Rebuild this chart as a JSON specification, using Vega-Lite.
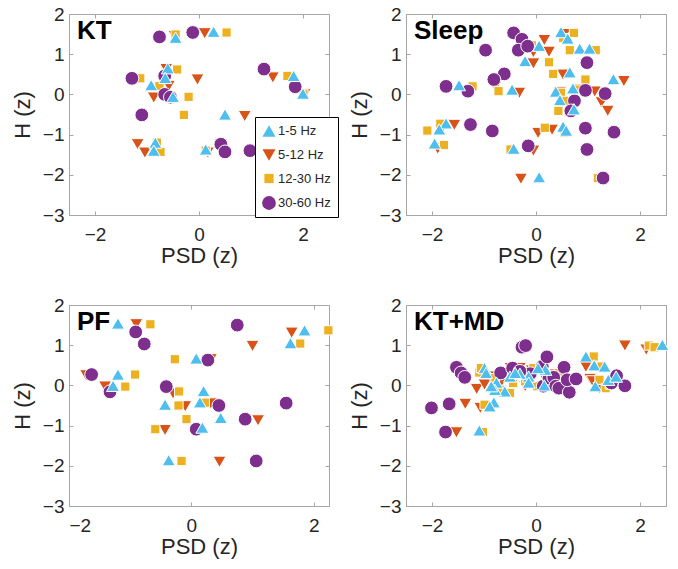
{
  "$schema": "https://vega.github.io/schema/vega-lite/v6.json",
  "background": "white",
  "padding": {"left": 10, "top": 4, "right": 5, "bottom": 5},
  "config": {
    "font": "Liberation Sans",
    "view": {"stroke": "#a6a6a6", "strokeWidth": 1},
    "axis": {"grid": false, "labelFont": "Liberation Sans", "labelFontSize": 19, "labelColor": "#262626", "titleFont": "Liberation Sans", "titleFontSize": 22, "titleFontWeight": "normal", "titleColor": "#262626", "domainColor": "#a6a6a6", "tickColor": "#a6a6a6", "tickSize": -4},
    "axisX": {"labelPadding": 14, "titlePadding": 1},
    "axisY": {"labelPadding": 9, "titlePadding": 8},
    "title": {"font": "Liberation Sans", "fontSize": 26, "fontWeight": "bold", "color": "black", "anchor": "start", "frame": "group", "orient": "top", "offset": 0, "dx": 8, "dy": 43, "baseline": "alphabetic"}
  },
  "datasets": {
    "kt": [
      {"band": "5-12 Hz", "psd": -0.47, "h": 1.45}, {"band": "5-12 Hz", "psd": 0.11, "h": 1.52}, {"band": "5-12 Hz", "psd": -0.63, "h": 0.63}, {"band": "5-12 Hz", "psd": -0.58, "h": 0.21}, {"band": "5-12 Hz", "psd": -0.87, "h": -0.08}, {"band": "5-12 Hz", "psd": -0.03, "h": 0.37}, {"band": "5-12 Hz", "psd": 0.88, "h": -0.54}, {"band": "5-12 Hz", "psd": 1.42, "h": 0.42}, {"band": "5-12 Hz", "psd": 2.03, "h": 0.0}, {"band": "5-12 Hz", "psd": -1.18, "h": -1.24}, {"band": "5-12 Hz", "psd": -1.04, "h": -1.45}, {"band": "5-12 Hz", "psd": 0.17, "h": -1.45},
      {"band": "12-30 Hz", "psd": -0.45, "h": 1.49}, {"band": "12-30 Hz", "psd": 0.53, "h": 1.54}, {"band": "12-30 Hz", "psd": -0.42, "h": 0.62}, {"band": "12-30 Hz", "psd": -1.13, "h": 0.40}, {"band": "12-30 Hz", "psd": -0.76, "h": 0.21}, {"band": "12-30 Hz", "psd": -0.20, "h": -0.06}, {"band": "12-30 Hz", "psd": -0.29, "h": -0.51}, {"band": "12-30 Hz", "psd": 1.70, "h": 0.46}, {"band": "12-30 Hz", "psd": 2.01, "h": 0.0}, {"band": "12-30 Hz", "psd": -0.81, "h": -1.20}, {"band": "12-30 Hz", "psd": -0.74, "h": -1.43}, {"band": "12-30 Hz", "psd": 0.13, "h": -1.40},
      {"band": "30-60 Hz", "psd": -0.76, "h": 1.43}, {"band": "30-60 Hz", "psd": -0.12, "h": 1.54}, {"band": "30-60 Hz", "psd": -1.29, "h": 0.40}, {"band": "30-60 Hz", "psd": -0.66, "h": 0.46}, {"band": "30-60 Hz", "psd": -0.66, "h": 0.0}, {"band": "30-60 Hz", "psd": -0.55, "h": -0.07}, {"band": "30-60 Hz", "psd": -1.10, "h": -0.51}, {"band": "30-60 Hz", "psd": 1.25, "h": 0.63}, {"band": "30-60 Hz", "psd": 1.85, "h": 0.19}, {"band": "30-60 Hz", "psd": 0.42, "h": -1.24}, {"band": "30-60 Hz", "psd": 0.50, "h": -1.43}, {"band": "30-60 Hz", "psd": 0.98, "h": -1.40},
      {"band": "1-5 Hz", "psd": -0.45, "h": 1.41}, {"band": "1-5 Hz", "psd": 0.28, "h": 1.56}, {"band": "1-5 Hz", "psd": -0.60, "h": 0.65}, {"band": "1-5 Hz", "psd": -0.65, "h": 0.41}, {"band": "1-5 Hz", "psd": -0.92, "h": 0.23}, {"band": "1-5 Hz", "psd": -0.50, "h": -0.06}, {"band": "1-5 Hz", "psd": 0.50, "h": -0.50}, {"band": "1-5 Hz", "psd": 1.82, "h": 0.46}, {"band": "1-5 Hz", "psd": 2.0, "h": 0.02}, {"band": "1-5 Hz", "psd": -0.84, "h": -1.20}, {"band": "1-5 Hz", "psd": -0.87, "h": -1.40}, {"band": "1-5 Hz", "psd": 0.13, "h": -1.37}
    ],
    "sleep": [
      {"band": "5-12 Hz", "psd": 0.16, "h": 1.35}, {"band": "5-12 Hz", "psd": 0.25, "h": 1.06}, {"band": "5-12 Hz", "psd": -0.05, "h": 0.77}, {"band": "5-12 Hz", "psd": 0.52, "h": 0.49}, {"band": "5-12 Hz", "psd": 0.55, "h": 1.50}, {"band": "5-12 Hz", "psd": -0.05, "h": 1.05}, {"band": "5-12 Hz", "psd": -0.78, "h": 0.20}, {"band": "5-12 Hz", "psd": -0.32, "h": 0.04}, {"band": "5-12 Hz", "psd": 1.13, "h": 0.07}, {"band": "5-12 Hz", "psd": 1.26, "h": -0.20}, {"band": "5-12 Hz", "psd": 1.38, "h": -0.41}, {"band": "5-12 Hz", "psd": 1.69, "h": 0.33}, {"band": "5-12 Hz", "psd": -1.57, "h": -0.76}, {"band": "5-12 Hz", "psd": -1.83, "h": -0.90}, {"band": "5-12 Hz", "psd": 0.31, "h": -0.88}, {"band": "5-12 Hz", "psd": 0.04, "h": -0.96}, {"band": "5-12 Hz", "psd": -0.05, "h": -1.40}, {"band": "5-12 Hz", "psd": -0.29, "h": -2.10}, {"band": "5-12 Hz", "psd": -1.89, "h": -1.35}, {"band": "5-12 Hz", "psd": 0.85, "h": 0.12}, {"band": "5-12 Hz", "psd": 0.46, "h": 0.05},
      {"band": "12-30 Hz", "psd": 0.73, "h": 1.53}, {"band": "12-30 Hz", "psd": 0.52, "h": 1.40}, {"band": "12-30 Hz", "psd": 0.65, "h": 1.10}, {"band": "12-30 Hz", "psd": 1.15, "h": 1.10}, {"band": "12-30 Hz", "psd": 0.25, "h": 0.80}, {"band": "12-30 Hz", "psd": 0.33, "h": 0.51}, {"band": "12-30 Hz", "psd": 0.95, "h": 0.37}, {"band": "12-30 Hz", "psd": -1.22, "h": 0.20}, {"band": "12-30 Hz", "psd": -0.72, "h": 0.08}, {"band": "12-30 Hz", "psd": 0.48, "h": 0.04}, {"band": "12-30 Hz", "psd": 0.54, "h": -0.16}, {"band": "12-30 Hz", "psd": 0.43, "h": -0.41}, {"band": "12-30 Hz", "psd": 0.17, "h": -0.83}, {"band": "12-30 Hz", "psd": -2.09, "h": -0.90}, {"band": "12-30 Hz", "psd": -1.84, "h": -0.73}, {"band": "12-30 Hz", "psd": -1.77, "h": -1.26}, {"band": "12-30 Hz", "psd": -0.49, "h": -1.37}, {"band": "12-30 Hz", "psd": 0.55, "h": -0.96}, {"band": "12-30 Hz", "psd": 1.19, "h": -2.08}, {"band": "12-30 Hz", "psd": 0.82, "h": 0.12}, {"band": "12-30 Hz", "psd": -0.08, "h": 1.22},
      {"band": "30-60 Hz", "psd": -0.43, "h": 1.53}, {"band": "30-60 Hz", "psd": -0.27, "h": 1.37}, {"band": "30-60 Hz", "psd": -0.34, "h": 1.10}, {"band": "30-60 Hz", "psd": -0.16, "h": 1.20}, {"band": "30-60 Hz", "psd": -0.97, "h": 1.10}, {"band": "30-60 Hz", "psd": 0.98, "h": 0.79}, {"band": "30-60 Hz", "psd": -0.61, "h": 0.51}, {"band": "30-60 Hz", "psd": -0.81, "h": 0.37}, {"band": "30-60 Hz", "psd": -1.73, "h": 0.20}, {"band": "30-60 Hz", "psd": -1.31, "h": 0.08}, {"band": "30-60 Hz", "psd": 0.95, "h": 0.10}, {"band": "30-60 Hz", "psd": 1.33, "h": 0.02}, {"band": "30-60 Hz", "psd": 0.74, "h": -0.16}, {"band": "30-60 Hz", "psd": 0.67, "h": -0.41}, {"band": "30-60 Hz", "psd": -1.26, "h": -0.75}, {"band": "30-60 Hz", "psd": -0.84, "h": -0.91}, {"band": "30-60 Hz", "psd": 0.95, "h": -0.84}, {"band": "30-60 Hz", "psd": 1.50, "h": -0.94}, {"band": "30-60 Hz", "psd": -0.15, "h": -1.28}, {"band": "30-60 Hz", "psd": 0.98, "h": -1.37}, {"band": "30-60 Hz", "psd": 1.29, "h": -2.08},
      {"band": "1-5 Hz", "psd": 0.48, "h": 1.55}, {"band": "1-5 Hz", "psd": 0.61, "h": 1.39}, {"band": "1-5 Hz", "psd": 0.06, "h": 1.21}, {"band": "1-5 Hz", "psd": 0.84, "h": 1.14}, {"band": "1-5 Hz", "psd": 1.03, "h": 1.14}, {"band": "1-5 Hz", "psd": -0.21, "h": 0.83}, {"band": "1-5 Hz", "psd": 0.65, "h": 0.55}, {"band": "1-5 Hz", "psd": -1.48, "h": 0.23}, {"band": "1-5 Hz", "psd": -0.46, "h": 0.12}, {"band": "1-5 Hz", "psd": 0.71, "h": 0.15}, {"band": "1-5 Hz", "psd": 0.38, "h": 0.07}, {"band": "1-5 Hz", "psd": 0.46, "h": -0.14}, {"band": "1-5 Hz", "psd": 0.73, "h": -0.37}, {"band": "1-5 Hz", "psd": 1.49, "h": 0.38}, {"band": "1-5 Hz", "psd": -1.73, "h": -0.72}, {"band": "1-5 Hz", "psd": -1.86, "h": -0.87}, {"band": "1-5 Hz", "psd": -1.95, "h": -1.22}, {"band": "1-5 Hz", "psd": 0.52, "h": -0.80}, {"band": "1-5 Hz", "psd": 0.58, "h": -0.90}, {"band": "1-5 Hz", "psd": -0.43, "h": -1.35}, {"band": "1-5 Hz", "psd": 0.06, "h": -2.06}
    ],
    "pf": [
      {"band": "5-12 Hz", "psd": -0.90, "h": 1.52}, {"band": "5-12 Hz", "psd": 1.64, "h": 1.31}, {"band": "5-12 Hz", "psd": 1.00, "h": 0.98}, {"band": "5-12 Hz", "psd": 0.32, "h": 0.65}, {"band": "5-12 Hz", "psd": -1.72, "h": 0.25}, {"band": "5-12 Hz", "psd": -1.41, "h": -0.03}, {"band": "5-12 Hz", "psd": -0.30, "h": -0.20}, {"band": "5-12 Hz", "psd": -0.10, "h": -0.52}, {"band": "5-12 Hz", "psd": 0.32, "h": -0.45}, {"band": "5-12 Hz", "psd": -0.43, "h": -1.11}, {"band": "5-12 Hz", "psd": 1.09, "h": -0.87}, {"band": "5-12 Hz", "psd": 0.46, "h": -1.90},
      {"band": "12-30 Hz", "psd": -0.67, "h": 1.52}, {"band": "12-30 Hz", "psd": 2.24, "h": 1.37}, {"band": "12-30 Hz", "psd": 1.78, "h": 1.04}, {"band": "12-30 Hz", "psd": -0.27, "h": 0.65}, {"band": "12-30 Hz", "psd": -0.92, "h": 0.27}, {"band": "12-30 Hz", "psd": -1.08, "h": -0.03}, {"band": "12-30 Hz", "psd": -0.20, "h": -0.15}, {"band": "12-30 Hz", "psd": -0.21, "h": -0.50}, {"band": "12-30 Hz", "psd": 0.22, "h": -0.43}, {"band": "12-30 Hz", "psd": -0.08, "h": -0.84}, {"band": "12-30 Hz", "psd": -0.59, "h": -1.09}, {"band": "12-30 Hz", "psd": -0.16, "h": -1.88},
      {"band": "30-60 Hz", "psd": 0.75, "h": 1.50}, {"band": "30-60 Hz", "psd": -0.91, "h": 1.33}, {"band": "30-60 Hz", "psd": -0.77, "h": 1.03}, {"band": "30-60 Hz", "psd": 0.27, "h": 0.63}, {"band": "30-60 Hz", "psd": -1.63, "h": 0.27}, {"band": "30-60 Hz", "psd": -1.33, "h": -0.16}, {"band": "30-60 Hz", "psd": -0.41, "h": -0.03}, {"band": "30-60 Hz", "psd": 0.45, "h": -0.50}, {"band": "30-60 Hz", "psd": 0.08, "h": -1.09}, {"band": "30-60 Hz", "psd": 0.88, "h": -0.84}, {"band": "30-60 Hz", "psd": 1.55, "h": -0.44}, {"band": "30-60 Hz", "psd": 1.06, "h": -1.88},
      {"band": "1-5 Hz", "psd": -1.20, "h": 1.54}, {"band": "1-5 Hz", "psd": 1.85, "h": 1.37}, {"band": "1-5 Hz", "psd": 1.62, "h": 1.05}, {"band": "1-5 Hz", "psd": 0.08, "h": 0.67}, {"band": "1-5 Hz", "psd": -1.20, "h": 0.27}, {"band": "1-5 Hz", "psd": -1.28, "h": -0.01}, {"band": "1-5 Hz", "psd": -0.43, "h": -0.48}, {"band": "1-5 Hz", "psd": 0.14, "h": -0.42}, {"band": "1-5 Hz", "psd": 0.20, "h": -0.14}, {"band": "1-5 Hz", "psd": 0.18, "h": -1.05}, {"band": "1-5 Hz", "psd": 0.48, "h": -0.81}, {"band": "1-5 Hz", "psd": -0.37, "h": -1.86}
    ],
    "ktmd": [
      {"band": "5-12 Hz", "psd": 1.71, "h": 0.99}, {"band": "5-12 Hz", "psd": 2.12, "h": 0.89}, {"band": "5-12 Hz", "psd": 0.96, "h": 0.46}, {"band": "5-12 Hz", "psd": 1.04, "h": 0.16}, {"band": "5-12 Hz", "psd": 1.09, "h": 0.10}, {"band": "5-12 Hz", "psd": 1.22, "h": -0.07}, {"band": "5-12 Hz", "psd": -1.53, "h": -1.17}, {"band": "5-12 Hz", "psd": -1.36, "h": -0.46}, {"band": "5-12 Hz", "psd": -1.14, "h": -0.09}, {"band": "5-12 Hz", "psd": -1.07, "h": -0.56}, {"band": "5-12 Hz", "psd": -0.99, "h": 0.02}, {"band": "5-12 Hz", "psd": -0.86, "h": 0.22}, {"band": "5-12 Hz", "psd": -0.49, "h": 0.43}, {"band": "5-12 Hz", "psd": -0.31, "h": 0.43}, {"band": "5-12 Hz", "psd": -0.08, "h": 0.37}, {"band": "5-12 Hz", "psd": 0.12, "h": 0.29}, {"band": "5-12 Hz", "psd": 0.38, "h": 0.27}, {"band": "5-12 Hz", "psd": -0.66, "h": 0.10}, {"band": "5-12 Hz", "psd": -0.21, "h": -0.02},
      {"band": "12-30 Hz", "psd": 2.17, "h": 0.99}, {"band": "12-30 Hz", "psd": 2.28, "h": 0.95}, {"band": "12-30 Hz", "psd": 1.11, "h": 0.72}, {"band": "12-30 Hz", "psd": 1.26, "h": 0.47}, {"band": "12-30 Hz", "psd": 1.22, "h": 0.14}, {"band": "12-30 Hz", "psd": 1.34, "h": -0.07}, {"band": "12-30 Hz", "psd": -1.09, "h": 0.32}, {"band": "12-30 Hz", "psd": -1.06, "h": 0.43}, {"band": "12-30 Hz", "psd": -1.02, "h": -1.16}, {"band": "12-30 Hz", "psd": -0.99, "h": -0.48}, {"band": "12-30 Hz", "psd": -0.50, "h": -0.19}, {"band": "12-30 Hz", "psd": -0.66, "h": -0.11}, {"band": "12-30 Hz", "psd": -0.44, "h": 0.06}, {"band": "12-30 Hz", "psd": -0.21, "h": 0.10}, {"band": "12-30 Hz", "psd": -0.05, "h": 0.43}, {"band": "12-30 Hz", "psd": 0.02, "h": -0.02}, {"band": "12-30 Hz", "psd": 0.28, "h": 0.24}, {"band": "12-30 Hz", "psd": 0.44, "h": 0.31}, {"band": "12-30 Hz", "psd": 1.42, "h": 0.02}, {"band": "12-30 Hz", "psd": -0.79, "h": 0.18},
      {"band": "30-60 Hz", "psd": -2.01, "h": -0.56}, {"band": "30-60 Hz", "psd": -1.67, "h": -0.46}, {"band": "30-60 Hz", "psd": -1.74, "h": -1.16}, {"band": "30-60 Hz", "psd": -1.53, "h": 0.45}, {"band": "30-60 Hz", "psd": -1.44, "h": 0.31}, {"band": "30-60 Hz", "psd": -1.37, "h": 0.20}, {"band": "30-60 Hz", "psd": -0.68, "h": 0.31}, {"band": "30-60 Hz", "psd": -0.45, "h": 0.43}, {"band": "30-60 Hz", "psd": -0.27, "h": 0.95}, {"band": "30-60 Hz", "psd": -0.20, "h": 0.99}, {"band": "30-60 Hz", "psd": -0.11, "h": 0.29}, {"band": "30-60 Hz", "psd": 0.12, "h": 0.47}, {"band": "30-60 Hz", "psd": 0.21, "h": 0.71}, {"band": "30-60 Hz", "psd": 0.14, "h": -0.02}, {"band": "30-60 Hz", "psd": 0.25, "h": 0.18}, {"band": "30-60 Hz", "psd": 0.34, "h": 0.20}, {"band": "30-60 Hz", "psd": 0.38, "h": -0.02}, {"band": "30-60 Hz", "psd": 0.44, "h": -0.07}, {"band": "30-60 Hz", "psd": 0.54, "h": 0.45}, {"band": "30-60 Hz", "psd": 0.64, "h": -0.17}, {"band": "30-60 Hz", "psd": 0.60, "h": 0.14}, {"band": "30-60 Hz", "psd": 0.77, "h": 0.16}, {"band": "30-60 Hz", "psd": 1.45, "h": 0.06}, {"band": "30-60 Hz", "psd": 1.55, "h": 0.24}, {"band": "30-60 Hz", "psd": 1.71, "h": -0.01}, {"band": "30-60 Hz", "psd": -0.31, "h": 0.35},
      {"band": "1-5 Hz", "psd": 2.43, "h": 1.01}, {"band": "1-5 Hz", "psd": 0.96, "h": 0.72}, {"band": "1-5 Hz", "psd": 1.12, "h": 0.50}, {"band": "1-5 Hz", "psd": 1.32, "h": 0.47}, {"band": "1-5 Hz", "psd": 1.39, "h": 0.14}, {"band": "1-5 Hz", "psd": 1.54, "h": 0.22}, {"band": "1-5 Hz", "psd": 1.14, "h": -0.02}, {"band": "1-5 Hz", "psd": 0.16, "h": 0.0}, {"band": "1-5 Hz", "psd": 0.18, "h": 0.39}, {"band": "1-5 Hz", "psd": 0.04, "h": 0.43}, {"band": "1-5 Hz", "psd": -0.14, "h": 0.22}, {"band": "1-5 Hz", "psd": -0.14, "h": 0.07}, {"band": "1-5 Hz", "psd": -0.31, "h": 0.29}, {"band": "1-5 Hz", "psd": -0.50, "h": 0.22}, {"band": "1-5 Hz", "psd": -0.60, "h": -0.15}, {"band": "1-5 Hz", "psd": -0.76, "h": 0.07}, {"band": "1-5 Hz", "psd": -0.79, "h": -0.11}, {"band": "1-5 Hz", "psd": -0.86, "h": -0.02}, {"band": "1-5 Hz", "psd": -0.99, "h": 0.43}, {"band": "1-5 Hz", "psd": -0.96, "h": 0.31}, {"band": "1-5 Hz", "psd": -0.81, "h": -0.42}, {"band": "1-5 Hz", "psd": -0.89, "h": -0.52}, {"band": "1-5 Hz", "psd": -1.09, "h": -1.12}, {"band": "1-5 Hz", "psd": -0.40, "h": 0.31}
    ]
  },
  "columns": 2,
  "bounds": "flush",
  "spacing": {"row": 90, "column": 77},
  "resolve": {"scale": {"color": "independent", "shape": "independent", "size": "independent"}, "legend": {"color": "independent", "shape": "independent", "size": "independent"}},
  "concat": [
    {
      "width": 260, "height": 201,
      "title": {"text": "KT"},
      "data": {"name": "kt"},
      "layer": [
        {"mark": {"type": "point", "filled": true, "opacity": 1, "stroke": "white", "strokeWidth": 1},
         "encoding": {
           "x": {"field": "psd", "type": "quantitative", "scale": {"domain": [-2.5, 2.5], "nice": false, "zero": false}, "axis": {"values": [-2, 0, 2], "title": "PSD (z)"}},
           "y": {"field": "h", "type": "quantitative", "scale": {"domain": [-3, 2], "nice": false, "zero": false}, "axis": {"values": [-3, -2, -1, 0, 1, 2], "title": "H (z)"}},
           "color": {"field": "band", "type": "nominal", "scale": {"domain": ["1-5 Hz", "5-12 Hz", "12-30 Hz", "30-60 Hz"], "range": ["#4DBEEE", "#D95319", "#EDB120", "#7E2F8E"]},
             "legend": {"title": null, "orient": "none", "legendX": 186, "legendY": 103, "strokeColor": "black", "fillColor": "white", "padding": 7, "labelFont": "Liberation Sans", "labelFontSize": 13, "labelColor": "#262626", "rowPadding": 10, "labelOffset": 2, "symbolSize": 110, "symbolStrokeWidth": 0, "cornerRadius": 0}},
           "shape": {"field": "band", "type": "nominal", "scale": {"domain": ["1-5 Hz", "5-12 Hz", "12-30 Hz", "30-60 Hz"], "range": ["triangle-up", "triangle-down", "square", "circle"]},
             "legend": {"title": null, "orient": "none", "legendX": 186, "legendY": 103, "strokeColor": "black", "fillColor": "white", "padding": 7, "labelFont": "Liberation Sans", "labelFontSize": 13, "labelColor": "#262626", "rowPadding": 10, "labelOffset": 2, "symbolSize": 110, "symbolStrokeWidth": 0, "cornerRadius": 0}},
           "size": {"field": "band", "type": "nominal", "scale": {"type": "ordinal", "domain": ["1-5 Hz", "5-12 Hz", "12-30 Hz", "30-60 Hz"], "range": [170, 170, 85, 190]}, "legend": null}
         }},
        {"mark": {"type": "point", "opacity": 0},
         "encoding": {
           "x": {"field": "psd", "type": "quantitative", "scale": {"domain": [-2.5, 2.5], "nice": false, "zero": false}, "axis": {"orient": "top", "values": [-2, 0, 2], "labels": false, "title": null, "domain": false}},
           "y": {"field": "h", "type": "quantitative", "scale": {"domain": [-3, 2], "nice": false, "zero": false}, "axis": {"orient": "right", "values": [-3, -2, -1, 0, 1, 2], "labels": false, "title": null, "domain": false}}
         }}
      ],
      "resolve": {"axis": {"x": "independent", "y": "independent"}}
    },
    {
      "width": 260, "height": 201,
      "title": {"text": "Sleep"},
      "data": {"name": "sleep"},
      "layer": [
        {"mark": {"type": "point", "filled": true, "opacity": 1, "stroke": "white", "strokeWidth": 1},
         "encoding": {
           "x": {"field": "psd", "type": "quantitative", "scale": {"domain": [-2.5, 2.5], "nice": false, "zero": false}, "axis": {"values": [-2, 0, 2], "title": "PSD (z)"}},
           "y": {"field": "h", "type": "quantitative", "scale": {"domain": [-3, 2], "nice": false, "zero": false}, "axis": {"values": [-3, -2, -1, 0, 1, 2], "title": "H (z)"}},
           "color": {"field": "band", "type": "nominal", "scale": {"domain": ["1-5 Hz", "5-12 Hz", "12-30 Hz", "30-60 Hz"], "range": ["#4DBEEE", "#D95319", "#EDB120", "#7E2F8E"]}, "legend": null},
           "shape": {"field": "band", "type": "nominal", "scale": {"domain": ["1-5 Hz", "5-12 Hz", "12-30 Hz", "30-60 Hz"], "range": ["triangle-up", "triangle-down", "square", "circle"]}, "legend": null},
           "size": {"field": "band", "type": "nominal", "scale": {"type": "ordinal", "domain": ["1-5 Hz", "5-12 Hz", "12-30 Hz", "30-60 Hz"], "range": [170, 170, 85, 190]}, "legend": null}
         }},
        {"mark": {"type": "point", "opacity": 0},
         "encoding": {
           "x": {"field": "psd", "type": "quantitative", "scale": {"domain": [-2.5, 2.5], "nice": false, "zero": false}, "axis": {"orient": "top", "values": [-2, 0, 2], "labels": false, "title": null, "domain": false}},
           "y": {"field": "h", "type": "quantitative", "scale": {"domain": [-3, 2], "nice": false, "zero": false}, "axis": {"orient": "right", "values": [-3, -2, -1, 0, 1, 2], "labels": false, "title": null, "domain": false}}
         }}
      ],
      "resolve": {"axis": {"x": "independent", "y": "independent"}}
    },
    {
      "width": 260, "height": 201,
      "title": {"text": "PF"},
      "data": {"name": "pf"},
      "layer": [
        {"mark": {"type": "point", "filled": true, "opacity": 1, "stroke": "white", "strokeWidth": 1},
         "encoding": {
           "x": {"field": "psd", "type": "quantitative", "scale": {"domain": [-2, 2.25], "nice": false, "zero": false}, "axis": {"values": [-2, 0, 2], "title": "PSD (z)"}},
           "y": {"field": "h", "type": "quantitative", "scale": {"domain": [-3, 2], "nice": false, "zero": false}, "axis": {"values": [-3, -2, -1, 0, 1, 2], "title": "H (z)"}},
           "color": {"field": "band", "type": "nominal", "scale": {"domain": ["1-5 Hz", "5-12 Hz", "12-30 Hz", "30-60 Hz"], "range": ["#4DBEEE", "#D95319", "#EDB120", "#7E2F8E"]}, "legend": null},
           "shape": {"field": "band", "type": "nominal", "scale": {"domain": ["1-5 Hz", "5-12 Hz", "12-30 Hz", "30-60 Hz"], "range": ["triangle-up", "triangle-down", "square", "circle"]}, "legend": null},
           "size": {"field": "band", "type": "nominal", "scale": {"type": "ordinal", "domain": ["1-5 Hz", "5-12 Hz", "12-30 Hz", "30-60 Hz"], "range": [170, 170, 85, 190]}, "legend": null}
         }},
        {"mark": {"type": "point", "opacity": 0},
         "encoding": {
           "x": {"field": "psd", "type": "quantitative", "scale": {"domain": [-2, 2.25], "nice": false, "zero": false}, "axis": {"orient": "top", "values": [-2, 0, 2], "labels": false, "title": null, "domain": false}},
           "y": {"field": "h", "type": "quantitative", "scale": {"domain": [-3, 2], "nice": false, "zero": false}, "axis": {"orient": "right", "values": [-3, -2, -1, 0, 1, 2], "labels": false, "title": null, "domain": false}}
         }}
      ],
      "resolve": {"axis": {"x": "independent", "y": "independent"}}
    },
    {
      "width": 260, "height": 201,
      "title": {"text": "KT+MD"},
      "data": {"name": "ktmd"},
      "layer": [
        {"mark": {"type": "point", "filled": true, "opacity": 1, "stroke": "white", "strokeWidth": 1},
         "encoding": {
           "x": {"field": "psd", "type": "quantitative", "scale": {"domain": [-2.5, 2.5], "nice": false, "zero": false}, "axis": {"values": [-2, 0, 2], "title": "PSD (z)"}},
           "y": {"field": "h", "type": "quantitative", "scale": {"domain": [-3, 2], "nice": false, "zero": false}, "axis": {"values": [-3, -2, -1, 0, 1, 2], "title": "H (z)"}},
           "color": {"field": "band", "type": "nominal", "scale": {"domain": ["1-5 Hz", "5-12 Hz", "12-30 Hz", "30-60 Hz"], "range": ["#4DBEEE", "#D95319", "#EDB120", "#7E2F8E"]}, "legend": null},
           "shape": {"field": "band", "type": "nominal", "scale": {"domain": ["1-5 Hz", "5-12 Hz", "12-30 Hz", "30-60 Hz"], "range": ["triangle-up", "triangle-down", "square", "circle"]}, "legend": null},
           "size": {"field": "band", "type": "nominal", "scale": {"type": "ordinal", "domain": ["1-5 Hz", "5-12 Hz", "12-30 Hz", "30-60 Hz"], "range": [170, 170, 85, 190]}, "legend": null}
         }},
        {"mark": {"type": "point", "opacity": 0},
         "encoding": {
           "x": {"field": "psd", "type": "quantitative", "scale": {"domain": [-2.5, 2.5], "nice": false, "zero": false}, "axis": {"orient": "top", "values": [-2, 0, 2], "labels": false, "title": null, "domain": false}},
           "y": {"field": "h", "type": "quantitative", "scale": {"domain": [-3, 2], "nice": false, "zero": false}, "axis": {"orient": "right", "values": [-3, -2, -1, 0, 1, 2], "labels": false, "title": null, "domain": false}}
         }}
      ],
      "resolve": {"axis": {"x": "independent", "y": "independent"}}
    }
  ]
}
